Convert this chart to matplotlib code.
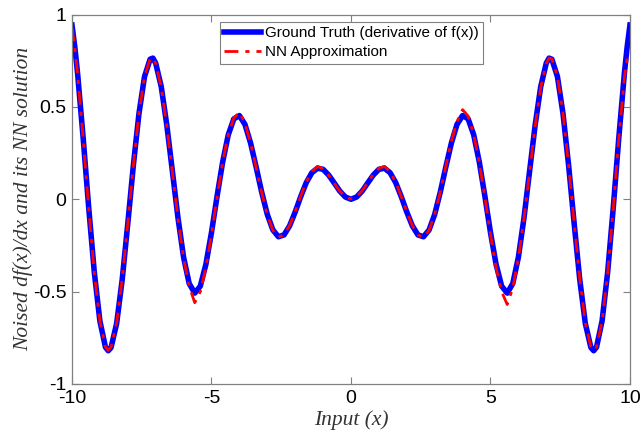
import matplotlib
matplotlib.use("Agg")
import matplotlib.pyplot as plt

x_vals = [-10.0, -9.9, -9.8, -9.6, -9.4, -9.2, -9.0, -8.8, -8.7, -8.6, -8.4, -8.2, -8.0,
          -7.8, -7.6, -7.4, -7.2, -7.1, -7.0, -6.8, -6.6, -6.4, -6.2, -6.0, -5.8, -5.6,
          -5.4, -5.2, -5.0, -4.8, -4.6, -4.4, -4.2, -4.0, -3.8, -3.6, -3.4, -3.2, -3.0,
          -2.8, -2.6, -2.4, -2.2, -2.0, -1.8, -1.6, -1.4, -1.2, -1.0, -0.8, -0.6, -0.4,
          -0.2, 0.0, 0.2, 0.4, 0.6, 0.8, 1.0, 1.2, 1.4, 1.6, 1.8, 2.0, 2.2, 2.4, 2.6,
          2.8, 3.0, 3.2, 3.4, 3.6, 3.8, 4.0, 4.2, 4.4, 4.6, 4.8, 5.0, 5.2, 5.4, 5.6,
          5.8, 6.0, 6.2, 6.4, 6.6, 6.8, 7.0, 7.1, 7.2, 7.4, 7.6, 7.8, 8.0, 8.2, 8.4,
          8.6, 8.7, 8.8, 9.0, 9.2, 9.4, 9.6, 9.8, 9.9, 10.0]

ground_truth = [0.943, 0.826, 0.682, 0.333, -0.047, -0.395, -0.659, -0.801, -0.820, -0.803,
                -0.673, -0.435, -0.132, 0.184, 0.463, 0.664, 0.758, 0.764, 0.737, 0.609,
                0.400, 0.150, -0.102, -0.314, -0.456, -0.508, -0.470, -0.352, -0.180,
                0.016, 0.201, 0.348, 0.435, 0.453, 0.405, 0.305, 0.175, 0.038, -0.082,
                -0.166, -0.203, -0.193, -0.144, -0.069, 0.015, 0.091, 0.144, 0.168, 0.162,
                0.131, 0.088, 0.044, 0.012, 0.000, 0.012, 0.044, 0.088, 0.131, 0.162, 0.168,
                0.144, 0.091, 0.015, -0.069, -0.144, -0.193, -0.203, -0.166, -0.082, 0.038,
                0.175, 0.305, 0.405, 0.453, 0.435, 0.348, 0.201, 0.016, -0.180, -0.352,
                -0.470, -0.508, -0.456, -0.314, -0.102, 0.150, 0.400, 0.609, 0.737, 0.764,
                0.758, 0.664, 0.463, 0.184, -0.132, -0.435, -0.673, -0.803, -0.820, -0.801,
                -0.659, -0.395, -0.047, 0.333, 0.682, 0.826, 0.943]

nn_approx = [0.930, 0.820, 0.680, 0.330, -0.050, -0.400, -0.660, -0.800, -0.818, -0.800,
             -0.670, -0.430, -0.130, 0.185, 0.465, 0.665, 0.760, 0.765, 0.735, 0.605,
             0.395, 0.145, -0.105, -0.320, -0.470, -0.560, -0.500, -0.370, -0.190,
             0.010, 0.200, 0.350, 0.440, 0.470, 0.410, 0.305, 0.172, 0.035, -0.085,
             -0.168, -0.205, -0.192, -0.142, -0.066, 0.018, 0.095, 0.150, 0.178, 0.165,
             0.130, 0.086, 0.043, 0.012, 0.002, 0.013, 0.046, 0.090, 0.135, 0.168, 0.178,
             0.150, 0.093, 0.016, -0.068, -0.143, -0.193, -0.205, -0.168, -0.083, 0.040,
             0.180, 0.315, 0.420, 0.485, 0.450, 0.350, 0.198, 0.010, -0.190, -0.370,
             -0.500, -0.570, -0.480, -0.320, -0.105, 0.145, 0.395, 0.605, 0.735, 0.765,
             0.760, 0.665, 0.465, 0.185, -0.130, -0.430, -0.670, -0.800, -0.818, -0.800,
             -0.660, -0.400, -0.050, 0.330, 0.660, 0.760, 0.790]

x_ticks = [-10, -5, 0, 5, 10]
y_ticks = [-1, -0.5, 0, 0.5, 1]
x_tick_labels = ["-10", "-5", "0", "5", "10"]
y_tick_labels = ["-1", "-0.5", "0", "0.5", "1"]

plt.rcParams['font.family'] = ['Liberation Sans', 'DejaVu Sans']

fig = plt.figure(figsize=(6.41, 4.36), dpi=100)
ax = fig.add_axes([0.1123, 0.1193, 0.8705, 0.8474])

ax.plot(x_vals, ground_truth, color='#0000ff', linewidth=4.0,
        label='Ground Truth (derivative of f(x))', solid_joinstyle='round')
ax.plot(x_vals, nn_approx, color='#ff0000', linewidth=2.0, linestyle=(0, (5, 2.5, 1.5, 2.5)),
        label='NN Approximation')

ax.set_xlim(-10, 10)
ax.set_ylim(-1, 1)
ax.set_xticks(x_ticks)
ax.set_xticklabels(x_tick_labels)
ax.set_yticks(y_ticks)
ax.set_yticklabels(y_tick_labels)
ax.tick_params(direction='in', length=5, width=0.8, color='#808080',
               top=True, right=True, labelsize=14, labelcolor='black', pad=4)
for sp in ax.spines.values():
    sp.set_color('#808080')
    sp.set_linewidth(0.9)

ax.set_xlabel('Input (x)', family=['Liberation Serif'], style='italic',
              fontsize=15.5, color='#333333', labelpad=3)
ax.set_ylabel('Noised df(x)/dx and its NN solution', family=['Liberation Serif'],
              style='italic', fontsize=15.5, color='#333333', labelpad=0)

leg = ax.legend(loc='upper center', bbox_to_anchor=(0.501, 0.98), fontsize=11,
                fancybox=False, framealpha=1, edgecolor='#808080', handlelength=2.4,
                borderpad=0.3, labelspacing=0.3, handletextpad=0.25, borderaxespad=0)
leg.get_frame().set_linewidth(0.8)

fig.savefig('out.png', dpi=100)
